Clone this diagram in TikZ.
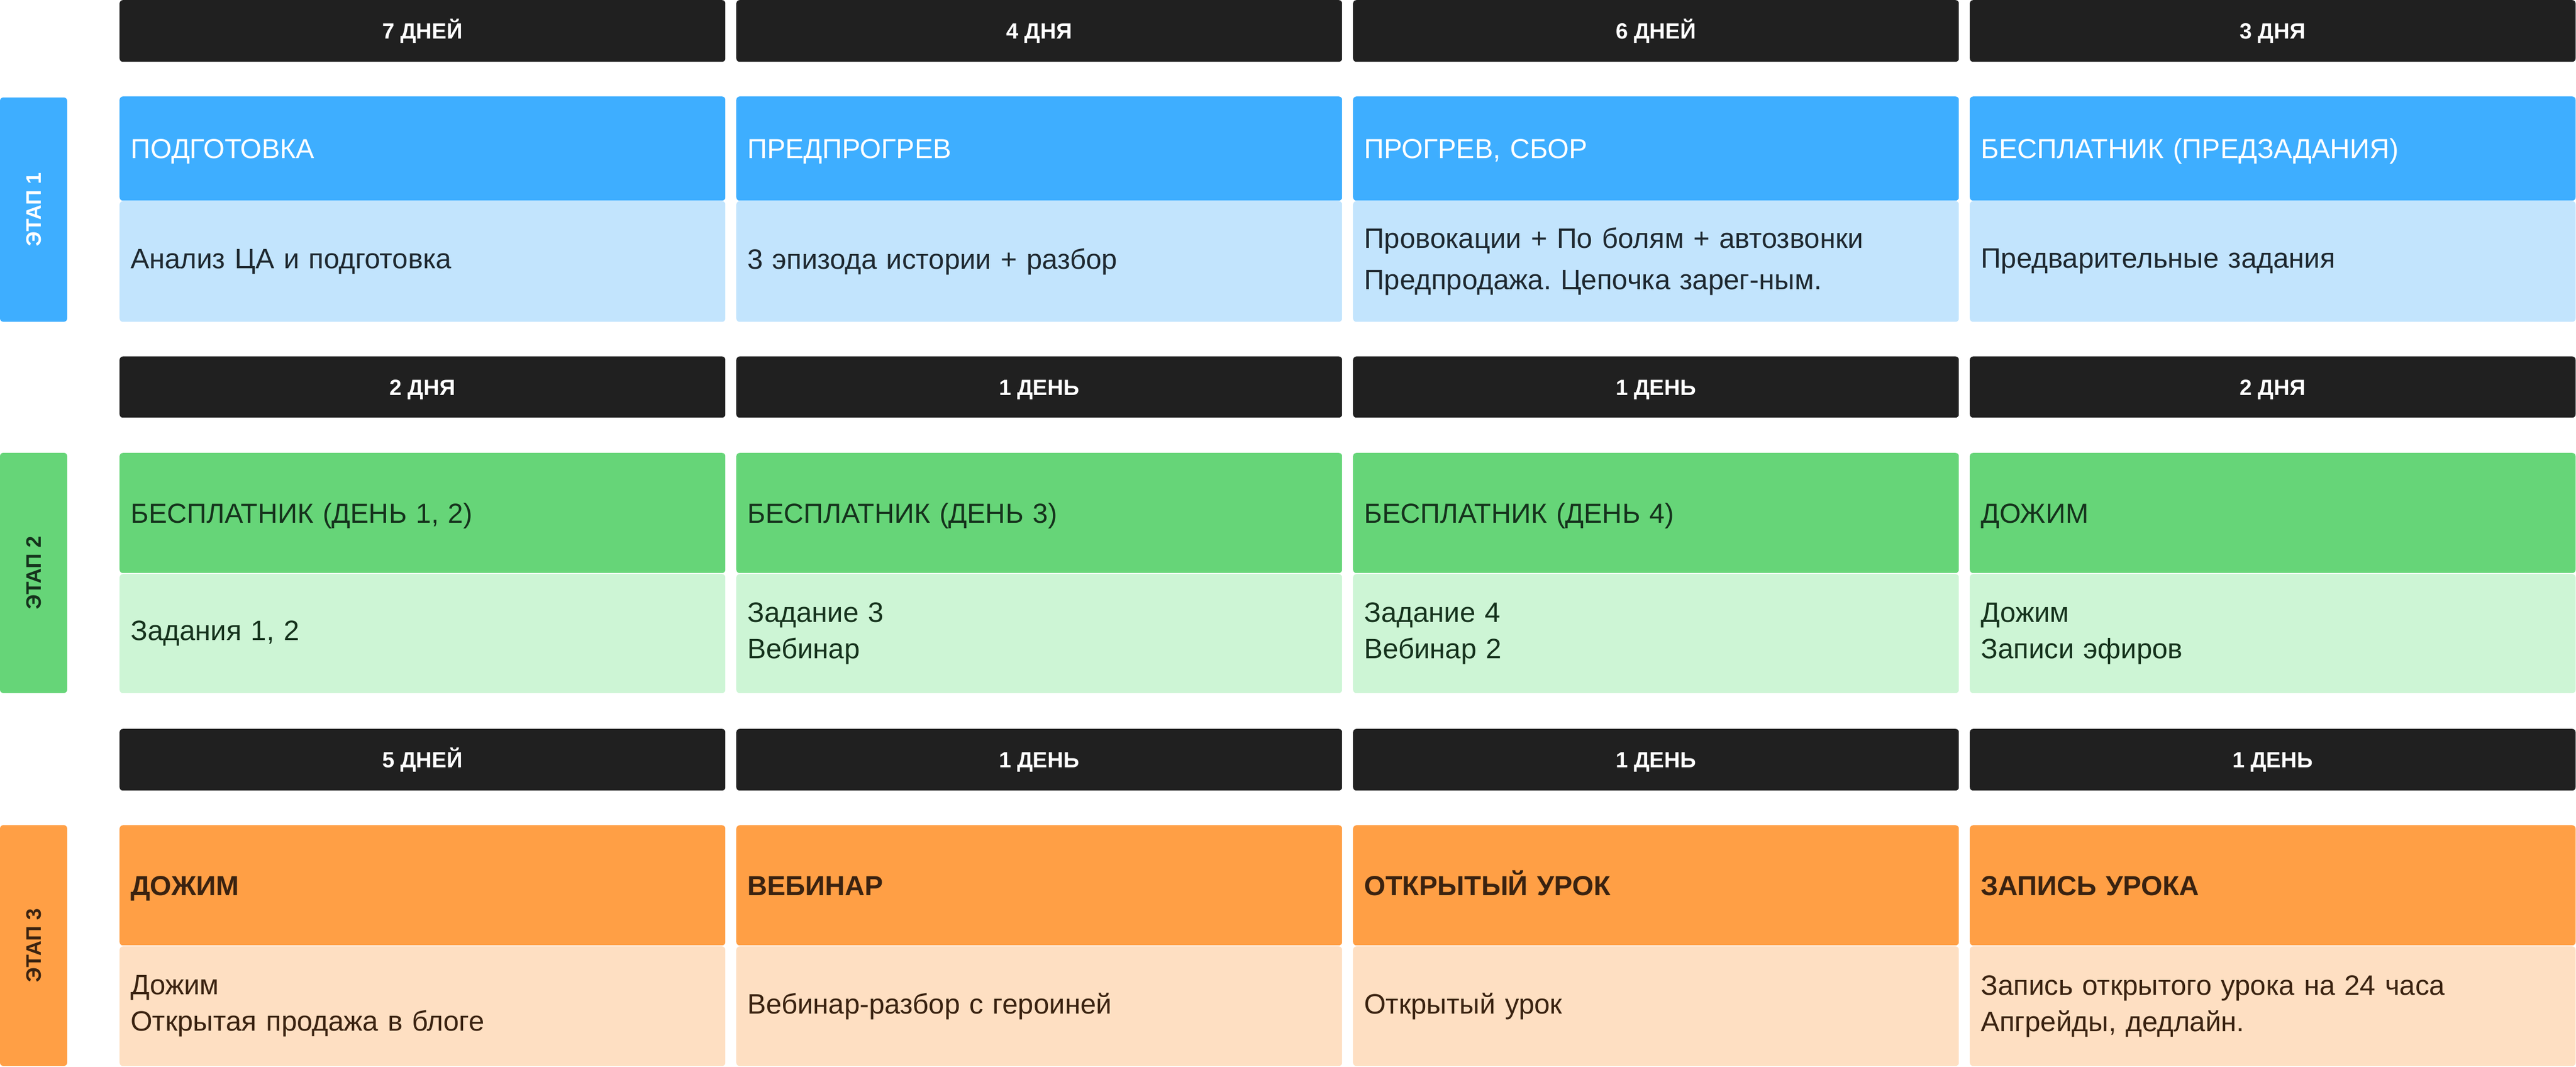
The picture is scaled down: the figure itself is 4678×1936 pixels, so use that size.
\documentclass[tikz,border=0pt]{standalone}
\usepackage{fontspec}
\setmainfont{Liberation Sans}
\usetikzlibrary{positioning}
\frenchspacing
\definecolor{barblack}{HTML}{202020}
\definecolor{blueA}{HTML}{3EAEFF}
\definecolor{blueB}{HTML}{C2E4FD}
\definecolor{greenA}{HTML}{66D578}
\definecolor{greenB}{HTML}{CDF5D5}
\definecolor{orangeA}{HTML}{FF9F45}
\definecolor{orangeB}{HTML}{FEDFC2}
\definecolor{inkblue}{HTML}{1E2830}
\definecolor{inkgreen}{HTML}{15321C}
\definecolor{inkbrown}{HTML}{3A2210}
\tikzstyle{bar}=[fill=barblack,rounded corners=6pt,anchor=north west,minimum width=1100pt,minimum height=112pt,inner sep=0pt,text height=29pt,text depth=0pt,text=white,font=\fontsize{40}{48}\selectfont\bfseries]
\tikzstyle{head}=[rounded corners=6pt,anchor=north west,text width=1060pt,inner xsep=20pt,inner ysep=0pt,align=left,text height=36pt,text depth=0pt,font=\fontsize{50}{60}\selectfont]
\tikzstyle{cell}=[rounded corners=6pt,anchor=north west,text width=1060pt,inner xsep=20pt,inner ysep=0pt,align=left,minimum height=218pt]
\tikzstyle{tab}=[rotate=90,rounded corners=6pt,minimum height=122pt,inner sep=0pt,text height=27pt,text depth=0pt,font=\fontsize{38}{40}\selectfont\bfseries]

\begin{document}
\begin{tikzpicture}[x=1pt,y=-1pt]
    \useasboundingbox (0,0) rectangle (4678,1936);

    % stage tabs
    \node[tab,fill=blueA,text=white,minimum width=407pt] (tab1) at (61,380.5) {ЭТАП 1};
    \node[tab,fill=greenA,text=inkgreen,minimum width=436pt] (tab2) at (61,1040) {ЭТАП 2};
    \node[tab,fill=orangeA,text=inkbrown,minimum width=437pt] (tab3) at (61,1716.5) {ЭТАП 3};

    % stage 1
    \foreach \name/\x/\txt in {a/217/{7 ДНЕЙ}, b/1337/{4 ДНЯ}, c/2457/{6 ДНЕЙ}, d/3577/{3 ДНЯ}}
        \node[bar] (bar1\name) at (\x,0) {\txt};
    \foreach \name/\x/\txt in {a/217/{ПОДГОТОВКА}, b/1337/{ПРЕДПРОГРЕВ}, c/2457/{ПРОГРЕВ, СБОР}, d/3577/{БЕСПЛАТНИК (ПРЕДЗАДАНИЯ)}}
        \node[head,fill=blueA,text=white,minimum height=189pt] (head1\name) at (\x,175) {\txt};
    \foreach \name/\x/\txt in {a/217/{Анализ ЦА и подготовка}, b/1337/{3 эпизода истории + разбор},
        c/2457/{Провокации + По болям + автозвонки\\Предпродажа. Цепочка зарег-ным.}, d/3577/{Предварительные задания}}
        \node[cell,fill=blueB,text=inkblue,minimum height=219pt,font=\fontsize{51}{75}\selectfont] (body1\name) at (\x,365) {\txt};

    % stage 2
    \foreach \name/\x/\txt in {a/217/{2 ДНЯ}, b/1337/{1 ДЕНЬ}, c/2457/{1 ДЕНЬ}, d/3577/{2 ДНЯ}}
        \node[bar,minimum height=111pt] (bar2\name) at (\x,647) {\txt};
    \foreach \name/\x/\txt in {a/217/{БЕСПЛАТНИК (ДЕНЬ 1, 2)}, b/1337/{БЕСПЛАТНИК (ДЕНЬ 3)}, c/2457/{БЕСПЛАТНИК (ДЕНЬ 4)}, d/3577/{ДОЖИМ}}
        \node[head,fill=greenA,text=inkgreen,minimum height=218pt] (head2\name) at (\x,822) {\txt};
    \foreach \name/\x/\txt in {a/217/{Задания 1, 2}, b/1337/{Задание 3\\Вебинар}, c/2457/{Задание 4\\Вебинар 2}, d/3577/{Дожим\\Записи эфиров}}
        \node[cell,fill=greenB,text=inkgreen,minimum height=216pt,font=\fontsize{51}{66}\selectfont] (body2\name) at (\x,1042) {\txt};

    % stage 3
    \foreach \name/\x/\txt in {a/217/{5 ДНЕЙ}, b/1337/{1 ДЕНЬ}, c/2457/{1 ДЕНЬ}, d/3577/{1 ДЕНЬ}}
        \node[bar] (bar3\name) at (\x,1323) {\txt};
    \foreach \name/\x/\txt in {a/217/{ДОЖИМ}, b/1337/{ВЕБИНАР}, c/2457/{ОТКРЫТЫЙ УРОК}, d/3577/{ЗАПИСЬ УРОКА}}
        \node[head,fill=orangeA,text=inkbrown,minimum height=218pt,font=\fontsize{50}{60}\selectfont\bfseries] (head3\name) at (\x,1498) {\txt};
    \foreach \name/\x/\txt in {a/217/{Дожим\\Открытая продажа в блоге}, b/1337/{Вебинар-разбор с героиней}, c/2457/{Открытый урок}, d/3577/{Запись открытого урока на 24 часа\\Апгрейды, дедлайн.}}
        \node[cell,fill=orangeB,text=inkbrown,minimum height=217pt,font=\fontsize{51}{66}\selectfont] (body3\name) at (\x,1718) {\txt};

\end{tikzpicture}
\end{document}
